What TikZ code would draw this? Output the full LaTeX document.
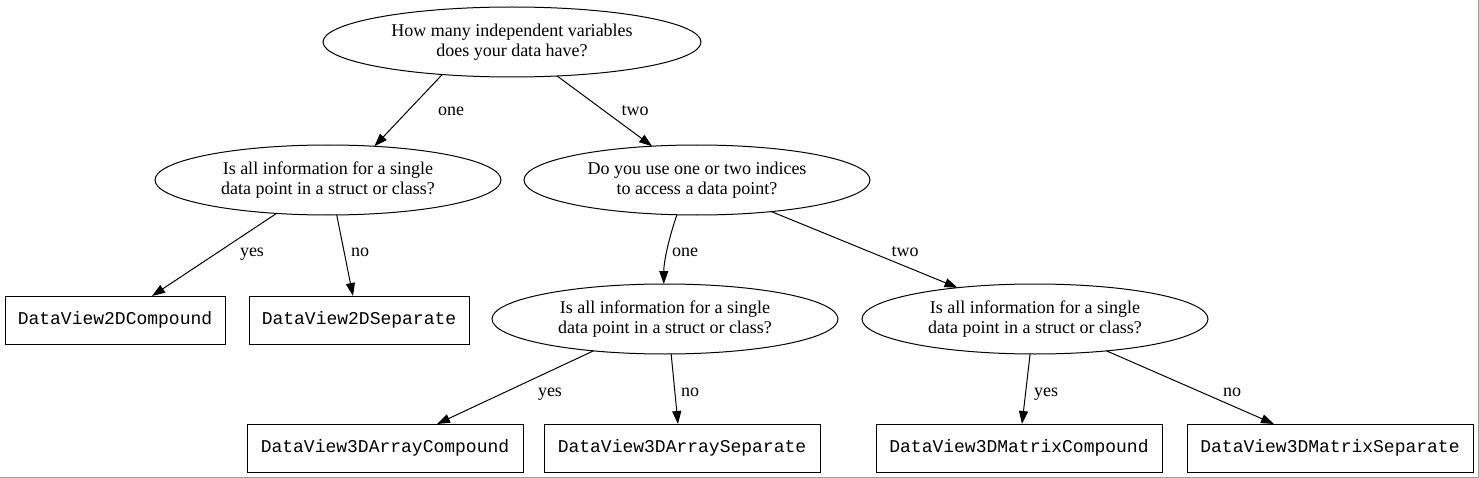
\documentclass[tikz,border=0pt]{standalone}
\usepackage{fontspec}
\setmainfont{Liberation Serif}
\setmonofont{Liberation Mono}
\usetikzlibrary{arrows.meta,calc,shapes.geometric}
\definecolor{bordergray}{RGB}{160,160,160}
\begin{document}
\begin{tikzpicture}[x=0.75pt,y=-0.75pt,
  every node/.style={font=\fontsize{13.5}{15}\selectfont},
  q/.style={ellipse,draw,line width=0.75pt,inner sep=0pt,outer sep=0pt,minimum width=259.5pt,minimum height=52.5pt,align=center},
  leaf/.style={rectangle,draw,line width=0.75pt,inner sep=0pt,outer sep=0pt,minimum height=36pt,font=\ttfamily\fontsize{13.5}{15}\selectfont},
  edge/.style={line width=0.75pt,-{Triangle[length=9.75pt,width=6.75pt]}},
  lbl/.style={inner sep=0pt,anchor=base}
]
\useasboundingbox (0,0) rectangle (1479,478);
\draw[bordergray,line width=0.75pt] (1478.5,0) -- (1478.5,477.5) -- (0,477.5);

% question nodes
\node[q,minimum width=283.5pt] (root) at (512,42) {How many independent variables\\does your data have?};
\node[q] (one) at (328,180) {Is all information for a single\\data point in a struct or class?};
\node[q] (two) at (697,180) {Do you use one or two indices\\to access a data point?};
\node[q] (arr) at (665,319) {Is all information for a single\\data point in a struct or class?};
\node[q] (mat) at (1035,319) {Is all information for a single\\data point in a struct or class?};

% leaves
\node[leaf,minimum width=165pt] (c2) at (115,320) {DataView2DCompound};
\node[leaf,minimum width=165pt] (s2) at (359,320) {DataView2DSeparate};
\node[leaf,minimum width=207pt] (ac) at (385,448) {DataView3DArrayCompound};
\node[leaf,minimum width=207pt] (as) at (682,448) {DataView3DArraySeparate};
\node[leaf,minimum width=214.5pt] (mc) at (1019,448) {DataView3DMatrixCompound};
\node[leaf,minimum width=214.5pt] (ms) at (1330,448) {DataView3DMatrixSeparate};

% edges
\draw[edge] (root.205) -- (one.36.5);
\draw[edge] (root.323) -- (two.143);
\draw[edge] (one.213) -- ($(c2.north)+(37,0)$);
\draw[edge] (one.284) -- ($(s2.north)+(-6,0)$);
\draw[edge] (two.240) .. controls +(-7,20) and +(0,-24) .. (arr.92);
\draw[edge] (two.337) -- (mat.158);
\draw[edge] (arr.204) -- ($(ac.north)+(52,0)$);
\draw[edge] (arr.280) -- ($(as.north)+(-4,0)$);
\draw[edge] (mat.262) -- ($(mc.north)+(3,0)$);
\draw[edge] (mat.336) -- ($(ms.north)+(-56,0)$);

% edge labels
\node[lbl] (l1) at (451,116) {one};
\node[lbl] (l2) at (635,116) {two};
\node[lbl] (l3) at (252,256.5) {yes};
\node[lbl] (l4) at (360,256.5) {no};
\node[lbl] (l5) at (685,256.5) {one};
\node[lbl] (l6) at (905,256.5) {two};
\node[lbl] (l7) at (550,396.5) {yes};
\node[lbl] (l8) at (690,396.5) {no};
\node[lbl] (l9) at (1046,396.5) {yes};
\node[lbl] (l10) at (1232,396.5) {no};
\end{tikzpicture}
\end{document}
